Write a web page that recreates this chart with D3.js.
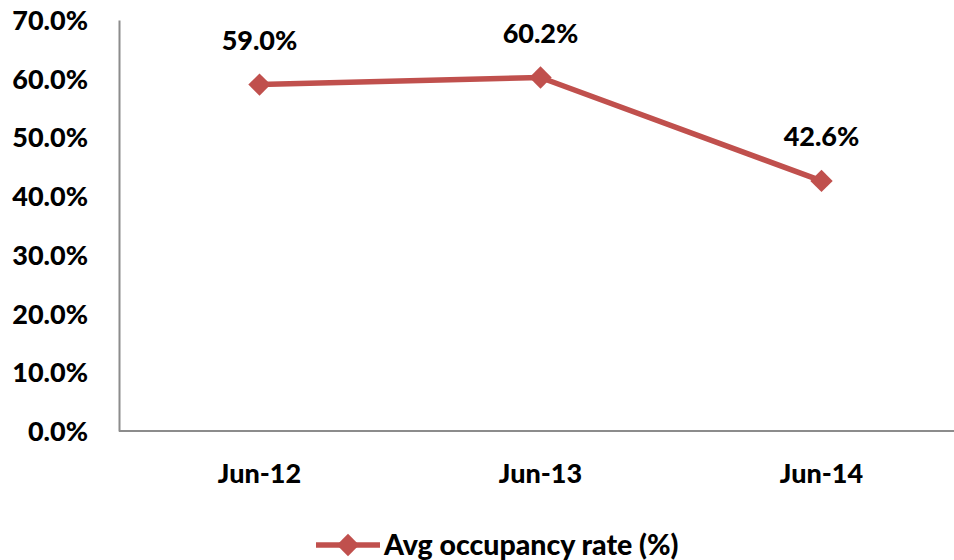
<!DOCTYPE html>
<html><head><meta charset="utf-8">
<script src="https://cdn.jsdelivr.net/npm/d3@7"></script>
<style>body{margin:0;background:#fff}svg{display:block}text{font-family:Lato,"Open Sans",sans-serif;font-weight:900;fill:#000}</style>
</head><body><svg id="c" width="954" height="560"></svg>
<script>
const categories = ["Jun-12", "Jun-13", "Jun-14"];
const values = [59.0, 60.2, 42.6];
const yTicks = [0, 10, 20, 30, 40, 50, 60, 70];
const seriesName = "Avg occupancy rate (%)";

(function () {
const svg = d3.select("#c");
const mLeft = 119, mRight = 962, mTop = 20, mBottom = 431;
const x = d3.scaleBand().domain(categories).range([mLeft, mRight]);
const y = d3.scaleLinear().domain([0, 70]).range([mBottom, mTop]);
const color = "#C0504D", axisColor = "#8C8C8C", fs = 27;

const yAxis = d3.axisLeft(y).tickValues(yTicks).tickSize(0).tickPadding(31).tickFormat(d => d.toFixed(1) + "%");
const gy = svg.append("g").attr("transform", `translate(${mLeft},0)`).call(yAxis);
gy.select(".domain").attr("stroke", axisColor).attr("stroke-width", 2);
gy.selectAll("text").style("font-size", fs + "px").attr("dy", "0.35em");

const xAxis = d3.axisBottom(x).tickSize(0).tickPadding(33);
const gx = svg.append("g").attr("transform", `translate(0,${mBottom})`).call(xAxis);
gx.select(".domain").attr("stroke", axisColor).attr("stroke-width", 2).attr("d", `M${mLeft},0H954`);
gx.selectAll("text").style("font-size", fs + "px");

const cx = d => x(d) + x.bandwidth() / 2;
const pts = categories.map((c, i) => ({c, v: values[i]}));

svg.append("path").datum(pts)
  .attr("d", d3.line().x(d => cx(d.c)).y(d => y(d.v)))
  .attr("fill", "none").attr("stroke", color).attr("stroke-width", 5.5).attr("stroke-linejoin", "round");

const sq = d3.symbol().type(d3.symbolSquare).size(250);
svg.selectAll(".mk").data(pts).join("path")
  .attr("d", sq).attr("transform", d => `translate(${cx(d.c)},${y(d.v)}) rotate(45)`)
  .attr("fill", color);

svg.selectAll(".lbl").data(pts).join("text")
  .attr("x", d => cx(d.c)).attr("y", d => y(d.v) - 35)
  .attr("text-anchor", "middle").style("font-size", fs + "px")
  .text(d => d.v.toFixed(1) + "%");

const ly = 545;
svg.append("line").attr("x1", 316).attr("x2", 380).attr("y1", ly).attr("y2", ly)
  .attr("stroke", color).attr("stroke-width", 5.5);
svg.append("path").attr("d", sq())
  .attr("transform", `translate(348,${ly}) rotate(45)`).attr("fill", color);
svg.append("text").attr("x", 384).attr("y", ly).attr("dy", "0.35em").style("font-size", "28.5px").text(seriesName);
})();
</script></body></html>
